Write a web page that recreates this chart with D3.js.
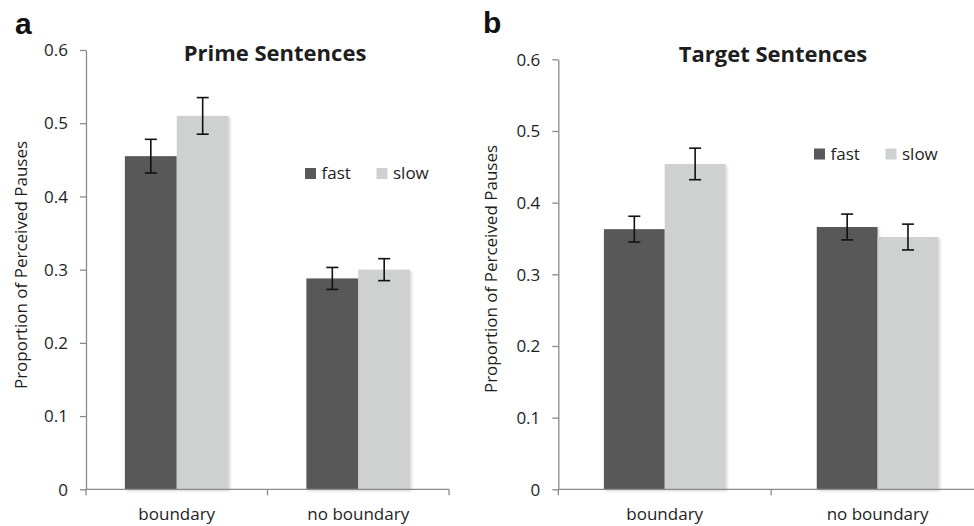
<!DOCTYPE html>
<meta charset="utf-8">
<style>
  body { margin: 0; background: #fff; }
  text { font-family: "Open Sans", sans-serif; fill: #1e1e1e; }
  .axis path, .axis line { stroke: #8a8a8a; stroke-width: 1.3px; }
  .axis text { font-size: 17px; fill: #1e1e1e; }
  .title { font-size: 22px; font-weight: bold; text-anchor: middle; }
  .letter { font-family: "Liberation Sans", Arial, sans-serif; font-size: 30px; font-weight: bold; fill: #111; }
  .ylabel { font-size: 17px; text-anchor: middle; }
  .cat { font-size: 17px; text-anchor: middle; }
  .legend text { font-size: 17px; }
  .err { stroke: #111; stroke-width: 1.6px; }
</style>
<body>
<script src="https://d3js.org/d3.v7.min.js"></script>
<script>

var width = 974,
    height = 526;

var categories = ["boundary", "no boundary"];
var series = ["fast", "slow"];
var colors = ["#595959", "#cfd1d1"];
var yTicks = [0, 0.1, 0.2, 0.3, 0.4, 0.5, 0.6];
var yTickLabels = ["0", "0.1", "0.2", "0.3", "0.4", "0.5", "0.6"];

// a: prime sentences
var primeFast = [0.455, 0.288];
var primeSlow = [0.510, 0.300];
var primeFastErr = [0.023, 0.015];
var primeSlowErr = [0.025, 0.015];

// b: target sentences
var targetFast = [0.363, 0.366];
var targetSlow = [0.454, 0.352];
var targetFastErr = [0.018, 0.018];
var targetSlowErr = [0.022, 0.018];

var svg = d3.select("body").append("svg")
  .attr("width", width)
  .attr("height", height);

var defs = svg.append("defs");
defs.append("filter")
    .attr("id", "shadow")
    .attr("x", "-10%").attr("y", "-10%")
    .attr("width", "130%").attr("height", "130%")
  .append("feDropShadow")
    .attr("dx", 1.5).attr("dy", 1.5)
    .attr("stdDeviation", 1)
    .attr("flood-color", "#000")
    .attr("flood-opacity", 0.18);

drawPanel({
  letter: "a", letterX: 15, letterY: 34,
  title: "Prime Sentences", titleX: 275, titleY: 61,
  left: 86, right: 449, top: 50, bottom: 489.3,
  ylabelX: 21, ylabelY: 265,
  legendX: 305, legendY: 168,
  values: [primeFast, primeSlow],
  errors: [primeFastErr, primeSlowErr]
});

drawPanel({
  letter: "b", letterX: 483, letterY: 33,
  title: "Target Sentences", titleX: 773, titleY: 62,
  left: 558.3, right: 984, top: 59.3, bottom: 489.3,
  ylabelX: 491, ylabelY: 269,
  legendX: 814, legendY: 148.5,
  values: [targetFast, targetSlow],
  errors: [targetFastErr, targetSlowErr]
});

function drawPanel(p) {

  var g = svg.append("g");

  var y = d3.scaleLinear()
    .domain([0, 0.6])
    .range([p.bottom, p.top]);

  var x = d3.scaleBand()
    .domain(categories)
    .range([p.left, p.right])
    .padding(0);

  var xs = d3.scaleBand()
    .domain(series)
    .range([0, x.bandwidth()])
    .paddingInner(0)
    .paddingOuter(0.75);

  // y axis
  g.append("g")
      .attr("class", "axis")
      .attr("transform", "translate(" + p.left + ",0)")
      .call(d3.axisLeft(y)
        .tickValues(yTicks)
        .tickFormat(function(d, i) { return yTickLabels[i]; })
        .tickSize(6)
        .tickSizeOuter(0)
        .tickPadding(12))
      .call(function(a) { a.selectAll("text").attr("dy", "0.34em"); });

  // bars
  series.forEach(function(s, si) {
    g.selectAll(".bar-" + s)
      .data(categories)
      .enter()
      .append("rect")
        .attr("x", function(c) { return x(c) + xs(s); })
        .attr("y", function(c, ci) { return y(p.values[si][ci]); })
        .attr("width", xs.bandwidth())
        .attr("height", function(c, ci) { return p.bottom - y(p.values[si][ci]); })
        .attr("fill", colors[si])
        .attr("filter", "url(#shadow)");
  });

  // x axis
  var xa = g.append("g").attr("class", "axis");
  xa.append("line")
      .attr("x1", p.left).attr("x2", p.right)
      .attr("y1", p.bottom).attr("y2", p.bottom);
  var bounds = categories.map(function(c) { return x(c); }).concat([p.right]);
  xa.selectAll(".xtick")
    .data(bounds)
    .enter()
    .append("line")
      .attr("x1", function(d) { return d; })
      .attr("x2", function(d) { return d; })
      .attr("y1", p.bottom)
      .attr("y2", p.bottom + 6);

  g.selectAll(".cat")
    .data(categories)
    .enter()
    .append("text")
      .attr("class", "cat")
      .attr("x", function(c) { return x(c) + x.bandwidth() / 2; })
      .attr("y", p.bottom + 31)
      .text(function(c) { return c; });

  // error bars
  series.forEach(function(s, si) {
    categories.forEach(function(c, ci) {
      var cx = x(c) + xs(s) + xs.bandwidth() / 2,
          v = p.values[si][ci],
          e = p.errors[si][ci];
      g.append("line").attr("class", "err")
        .attr("x1", cx).attr("x2", cx)
        .attr("y1", y(v + e)).attr("y2", y(v - e));
      [v + e, v - e].forEach(function(t) {
        g.append("line").attr("class", "err")
          .attr("x1", cx - 6).attr("x2", cx + 6)
          .attr("y1", y(t)).attr("y2", y(t));
      });
    });
  });

  // legend
  var lg = g.append("g").attr("class", "legend");
  series.forEach(function(s, si) {
    var lx = p.legendX + si * 71.5;
    lg.append("rect")
      .attr("x", lx).attr("y", p.legendY)
      .attr("width", 11).attr("height", 11)
      .attr("fill", colors[si]);
    lg.append("text")
      .attr("x", lx + 16.5)
      .attr("y", p.legendY + 11)
      .text(s);
  });

  // titles
  g.append("text")
    .attr("class", "title")
    .attr("x", p.titleX).attr("y", p.titleY)
    .text(p.title);

  g.append("text")
    .attr("class", "letter")
    .attr("x", p.letterX).attr("y", p.letterY)
    .text(p.letter);

  g.append("text")
    .attr("class", "ylabel")
    .attr("transform", "translate(" + p.ylabelX + "," + p.ylabelY + ") rotate(-90)")
    .attr("dy", "0.35em")
    .text("Proportion of Perceived Pauses");
}

</script>
</body>
